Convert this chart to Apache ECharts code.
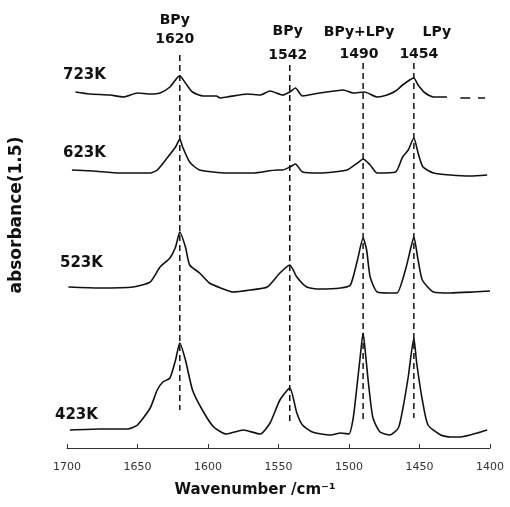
<!DOCTYPE html>
<html><head><meta charset="utf-8">
<script src="https://cdn.jsdelivr.net/npm/echarts@6/dist/echarts.min.js"></script>
<style>html,body{margin:0;padding:0;background:#fff}#c{width:510px;height:507px}</style>
</head><body><div id="c"></div>
<script>
// Temperatures (one stacked IR spectrum each)
const temperatureLabels = ['723K', '623K', '523K', '423K'];

// 723K spectrum (wavenumber / cm-1, absorbance incl. stacking offset)
const wn723  = [1694, 1684, 1669.5, 1660, 1650, 1641, 1634, 1627, 1622, 1620, 1616, 1611, 1603.5, 1594, 1591.5, 1586.5, 1572, 1563, 1556, 1547, 1542, 1538, 1533, 1520.6, 1504, 1497, 1489, 1480, 1473, 1467, 1462, 1457, 1454, 1451, 1446, 1440, 1430.5, 1426, 1421, 1414, 1411, 1408.5, 1403.5];
const abs723 = [3.56, 3.54, 3.53, 3.51, 3.55, 3.54, 3.55, 3.61, 3.70, 3.72, 3.65, 3.56, 3.52, 3.52, 3.50, 3.51, 3.54, 3.53, 3.57, 3.53, 3.56, 3.60, 3.52, 3.55, 3.58, 3.55, 3.56, 3.51, 3.53, 3.57, 3.63, 3.68, 3.70, 3.63, 3.55, 3.51, 3.51, null, 3.50, 3.50, null, 3.50, 3.50];

// 623K spectrum
const wn623  = [1696.5, 1681.6, 1662.4, 1641, 1636, 1629, 1623, 1620, 1618, 1613, 1606, 1586.5, 1568, 1551, 1547, 1542, 1538, 1533, 1520.6, 1501.4, 1494, 1490, 1485, 1480, 1467, 1462, 1458, 1454, 1451, 1447.5, 1440, 1428, 1414, 1402];
const abs623 = [2.78, 2.77, 2.75, 2.75, 2.78, 2.90, 3.01, 3.09, 3.01, 2.86, 2.78, 2.75, 2.75, 2.78, 2.78, 2.81, 2.84, 2.76, 2.75, 2.78, 2.85, 2.89, 2.83, 2.75, 2.76, 2.91, 2.98, 3.10, 2.95, 2.81, 2.75, 2.73, 2.72, 2.73];

// 523K spectrum
const wn523  = [1699, 1677, 1653, 1641, 1634, 1627, 1623, 1620, 1616, 1613, 1606, 1599, 1591, 1582, 1570, 1558, 1549, 1542, 1537, 1530, 1521, 1506, 1499, 1494, 1490, 1487.5, 1485, 1480, 1471, 1466, 1460, 1456, 1454, 1451, 1448, 1440, 1428, 1412, 1400];
const abs523 = [1.61, 1.60, 1.61, 1.66, 1.81, 1.90, 2.01, 2.16, 2.01, 1.83, 1.75, 1.65, 1.60, 1.56, 1.58, 1.61, 1.75, 1.83, 1.71, 1.61, 1.59, 1.60, 1.63, 1.88, 2.10, 1.98, 1.71, 1.56, 1.55, 1.55, 1.78, 2.01, 2.11, 1.88, 1.68, 1.56, 1.55, 1.56, 1.57];

// 423K spectrum
const wn423  = [1698, 1677, 1657, 1650, 1641, 1636, 1632, 1627, 1623, 1620, 1616, 1611, 1604, 1596, 1587, 1575, 1563, 1556, 1549, 1542, 1537, 1533, 1526, 1513, 1506, 1500, 1497, 1494.5, 1492, 1490, 1488, 1486, 1483, 1478, 1471, 1465, 1462, 1458, 1454, 1452, 1448, 1444, 1435, 1428, 1421, 1409, 1402];
const abs423 = [0.18, 0.19, 0.19, 0.23, 0.40, 0.58, 0.66, 0.70, 0.88, 1.05, 0.88, 0.58, 0.38, 0.21, 0.14, 0.18, 0.14, 0.25, 0.48, 0.60, 0.35, 0.23, 0.16, 0.13, 0.15, 0.14, 0.30, 0.60, 0.92, 1.15, 0.90, 0.62, 0.30, 0.16, 0.13, 0.20, 0.38, 0.71, 1.10, 0.85, 0.48, 0.23, 0.13, 0.11, 0.11, 0.15, 0.18];

// Assigned bands (dashed guide lines)
const peakWavenumbers = [1620, 1542, 1490, 1454];
const peakNames       = ['BPy', 'BPy', 'BPy+LPy', 'LPy'];
const peakLineTop     = [3.93, 3.83, 3.85, 3.85];
const peakLineBottom  = [0.38, 0.26, 0.28, 0.30];

const FONT = "'DejaVu Sans', sans-serif";
const INK = '#111';
const spectra = [
  { name: temperatureLabels[0], wn: wn723, ab: abs723 },
  { name: temperatureLabels[1], wn: wn623, ab: abs623 },
  { name: temperatureLabels[2], wn: wn523, ab: abs523 },
  { name: temperatureLabels[3], wn: wn423, ab: abs423 }
];
const series = [];
spectra.forEach(s => {
  series.push({
    name: s.name, type: 'line', showSymbol: false, connectNulls: false, smooth: 0.2,
    lineStyle: { color: INK, width: 1.6 },
    data: s.wn.map((w, i) => [w, s.ab[i] === null ? '-' : s.ab[i]]),
    z: 3, silent: true
  });
});
peakWavenumbers.forEach((w, i) => {
  series.push({
    name: 'guide' + w, type: 'line', showSymbol: false,
    lineStyle: { color: INK, width: 1.5, type: [6, 4] },
    data: [[w, peakLineTop[i]], [w, peakLineBottom[i]]],
    z: 2, silent: true
  });
});
// Peak annotation labels
const labelStyle = [
  { lineHeight: 19, distance: 6, offset: [-5, 0], pad: 0 },
  { lineHeight: 24, distance: -2, offset: [-2, 0], pad: 0 },
  { lineHeight: 22, distance: -2, offset: [-4, 0], pad: 0 },
  { lineHeight: 22, distance: -2, offset: [5, 0], pad: 36 }
];
series.push({
  name: 'peakLabels', type: 'scatter', symbolSize: 0.1,
  itemStyle: { color: 'rgba(255,255,255,0)' }, silent: true, z: 4,
  data: peakWavenumbers.map((w, i) => ({
    value: [w, peakLineTop[i]],
    label: {
      show: true, position: 'top', distance: labelStyle[i].distance, offset: labelStyle[i].offset,
      color: INK, opacity: 1,
      formatter: '{n|' + peakNames[i] + '}\n{w|' + w + '}',
      rich: {
        n: { fontFamily: FONT, fontSize: 14, fontWeight: 'bold', color: INK, lineHeight: labelStyle[i].lineHeight, padding: [0, 0, 0, labelStyle[i].pad] },
        w: { fontFamily: FONT, fontSize: 14, fontWeight: 'bold', color: INK, lineHeight: labelStyle[i].lineHeight }
      }
    }
  }))
});

const tempPos = [[63, 75], [63, 153], [60, 263], [55, 415]];
const graphics = temperatureLabels.map((t, i) => ({
  type: 'text', x: tempPos[i][0], y: tempPos[i][1], silent: true,
  style: { text: t, font: 'bold 15px ' + FONT, fill: INK, align: 'left', verticalAlign: 'middle' }
}));
graphics.push({
  type: 'text', x: 17, y: 215, rotation: Math.PI / 2, silent: true,
  style: { text: 'absorbance(1.5)', font: 'bold 17px ' + FONT, fill: INK, align: 'center', verticalAlign: 'middle' }
});
graphics.push({
  type: 'text', x: 255, y: 490, silent: true,
  style: { text: 'Wavenumber /cm\u207B\u00B9', font: 'bold 15px ' + FONT, fill: INK, align: 'center', verticalAlign: 'middle' }
});

const chart = echarts.init(document.getElementById('c'), null, { renderer: 'canvas' });
chart.setOption({
  animation: false,
  backgroundColor: '#fff',
  grid: { left: 67, right: 20, top: 48, bottom: 59 },
  xAxis: {
    type: 'value', inverse: true, min: 1400, max: 1700, interval: 50,
    axisLine: { show: true, onZero: false, lineStyle: { color: '#333', width: 1 } },
    axisTick: { show: true, inside: true, length: 4, lineStyle: { color: '#333' } },
    axisLabel: { fontFamily: FONT, fontSize: 11, color: '#333', margin: 14, formatter: v => String(v) },
    splitLine: { show: false }
  },
  yAxis: { type: 'value', min: 0, max: 4, show: false },
  series: series,
  graphic: graphics
});
</script>
</body></html>
